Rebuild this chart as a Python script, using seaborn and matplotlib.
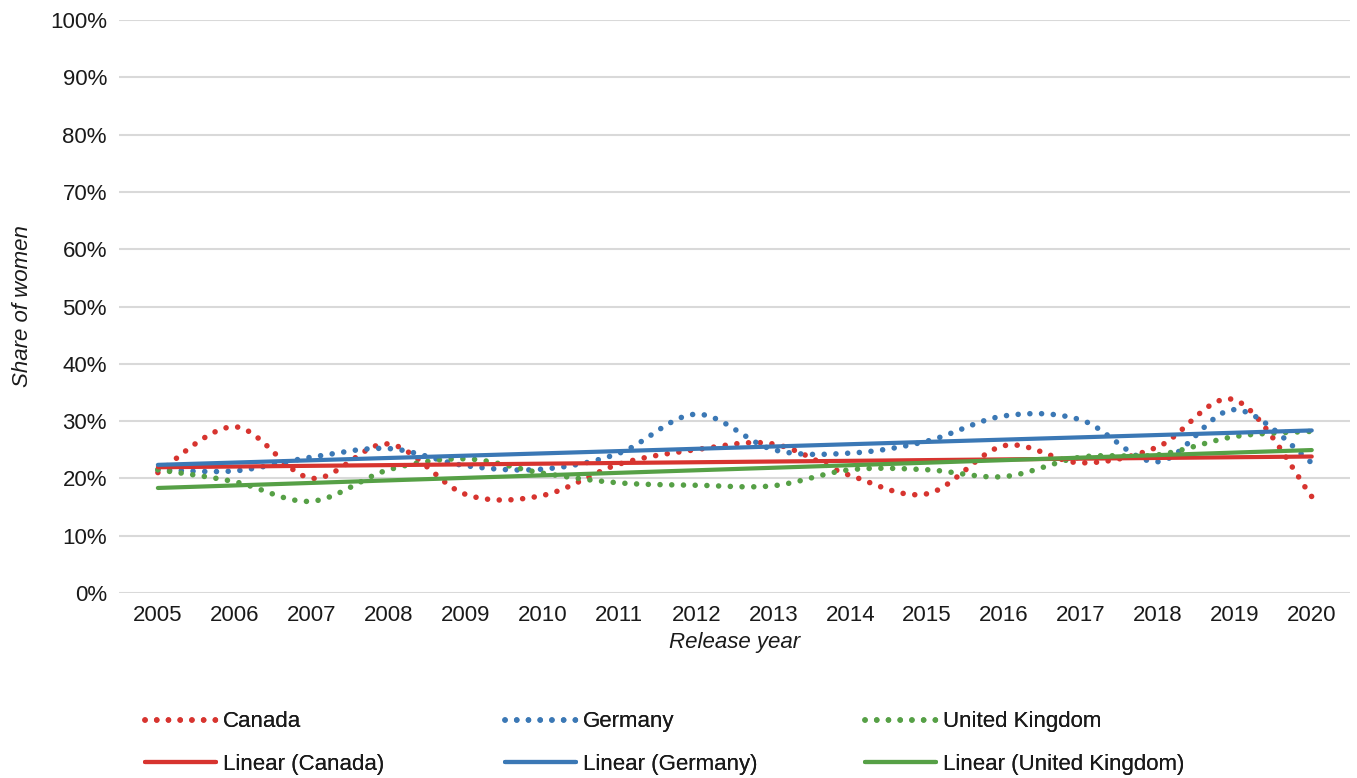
import matplotlib
matplotlib.use('Agg')
import matplotlib.pyplot as plt
from matplotlib.lines import Line2D
import seaborn as sns
import numpy as np

years = np.arange(2005, 2021)
canada = [21.0, 29.0, 20.0, 26.0, 17.2, 17.0, 22.5, 25.0, 26.0, 20.5, 17.3, 25.7, 22.7, 25.5, 33.7, 16.8]
germany = [21.5, 21.3, 23.7, 25.2, 22.2, 21.6, 24.4, 31.2, 25.0, 24.4, 26.5, 30.9, 30.2, 22.9, 32.0, 22.7]
uk = [21.5, 19.4, 16.0, 21.5, 23.4, 20.9, 19.2, 18.8, 18.7, 21.5, 21.5, 20.3, 23.7, 24.1, 27.3, 28.2]

countries = ['Canada', 'Germany', 'United Kingdom']
colors = ['#D7342F', '#3B78B5', '#56A046']
yticks = np.arange(0, 101, 10)


def smooth(x, y, n=30):
    # Excel style smoothed line (bezier through the points)
    x = np.asarray(x, float)
    y = np.asarray(y, float)
    px = np.r_[x[0], x, x[-1]]
    py = np.r_[y[0], y, y[-1]]
    t = np.linspace(0, 1, n)[:, None]
    xs, ys = [], []
    for i in range(1, len(px) - 2):
        p0 = np.array([px[i], py[i]])
        p3 = np.array([px[i + 1], py[i + 1]])
        c1 = p0 + (np.array([px[i + 1], py[i + 1]]) - np.array([px[i - 1], py[i - 1]])) / 6
        c2 = p3 - (np.array([px[i + 2], py[i + 2]]) - np.array([px[i], py[i]])) / 6
        b = ((1 - t) ** 3) * p0 + 3 * ((1 - t) ** 2) * t * c1 + 3 * (1 - t) * t ** 2 * c2 + t ** 3 * p3
        xs.append(b[:, 0])
        ys.append(b[:, 1])
    return np.concatenate(xs), np.concatenate(ys)


sns.set_style('white')
plt.rcParams['font.family'] = ['Liberation Sans', 'DejaVu Sans']
plt.rcParams['text.color'] = '#1A1A1A'

fig = plt.figure(figsize=(13.57, 7.78), dpi=100)
ax = fig.add_axes([0.088, 0.238, 0.907, 0.736])

dot = (0, (0.01, 2.1))
handles = []
for name, vals, c in zip(countries, [canada, germany, uk], colors):
    sx, sy = smooth(years, vals)
    ax.plot(sx, sy, color=c, lw=4.0, ls=dot, dash_capstyle='round', zorder=3)
    sns.regplot(x=years, y=np.array(vals), scatter=False, ci=None, truncate=True, ax=ax,
                line_kws={'color': c, 'lw': 3.0, 'zorder': 4})
    handles.append([Line2D([], [], color=c, lw=4.0, ls=dot, dash_capstyle='round'),
                    Line2D([], [], color=c, lw=3.0)])

ax.set_xlim(2004.5, 2020.5)
ax.set_ylim(0, 100)
ax.set_xticks(years)
ax.set_xticklabels([str(y) for y in years], fontsize=16, color='#1A1A1A')
ax.set_yticks(yticks)
ax.set_yticklabels([f'{v}%' for v in yticks], fontsize=16, color='#1A1A1A')
ax.grid(axis='y', color='#D9D9D9', lw=1.5, zorder=0)
ax.tick_params(length=0, pad=9)
for s in ax.spines.values():
    s.set_visible(False)
ax.set_xlabel('Release year', fontsize=16, style='italic', labelpad=4, color='#1A1A1A')
ax.set_ylabel('Share of women', fontsize=16, style='italic', labelpad=12, color='#1A1A1A')

xpos = [0.1069, 0.372, 0.6374]
for x0, name, h in zip(xpos, countries, handles):
    leg = fig.legend(h, [name, f'Linear ({name})'], loc='center left', bbox_to_anchor=(x0, 0.045),
                     frameon=False, fontsize=16, handlelength=3.2, handletextpad=0.32,
                     labelspacing=0.95, borderpad=0, borderaxespad=0)
    fig.add_artist(leg)

fig.savefig('out.png', dpi=100)
